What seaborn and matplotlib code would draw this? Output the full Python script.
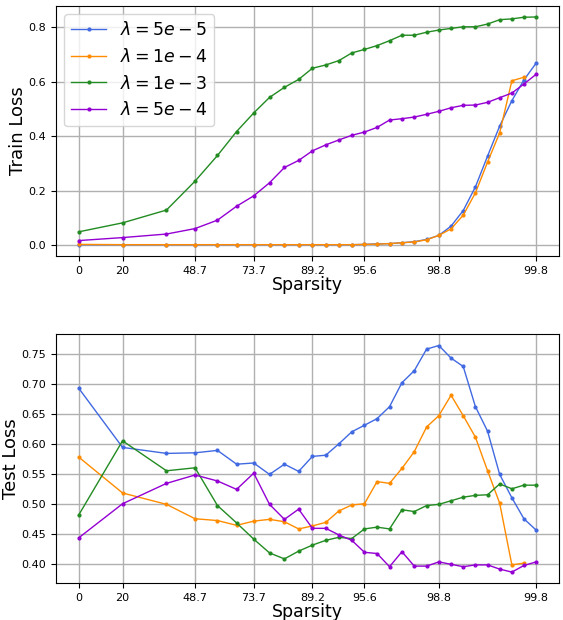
import pandas as pd
import seaborn as sns
import matplotlib.pyplot as plt
from matplotlib.ticker import NullLocator

# pruning rounds: sparsity as fraction (first point = dense model, drawn at 0.1 on the logit axis)
sparsity = [0.10, 0.200, 0.360, 0.488, 0.5904, 0.67232, 0.73786, 0.79028, 0.83223,
            0.86578, 0.89263, 0.91410, 0.93128, 0.94502, 0.95602, 0.96482, 0.97185,
            0.97748, 0.98199, 0.98559, 0.98847, 0.99078, 0.99262, 0.99410, 0.99528,
            0.99622, 0.99698, 0.99758, 0.99807]
tick_idx = [0, 1, 3, 6, 10, 14, 20, 28]
tick_labels = ["0", "20", "48.7", "73.7", "89.2", "95.6", "98.8", "99.8"]

lambdas = [r"$\lambda = 5e-5$", r"$\lambda = 1e-4$", r"$\lambda = 1e-3$", r"$\lambda = 5e-4$"]
colors = ["royalblue", "darkorange", "forestgreen", "darkviolet"]

train_5e5 = [0.003, 0.003, 0.003, 0.003, 0.003, 0.003, 0.003, 0.003, 0.003, 0.003,
             0.003, 0.003, 0.003, 0.003, 0.004, 0.006, 0.007, 0.010, 0.014, 0.022,
             0.037, 0.071, 0.128, 0.215, 0.328, 0.438, 0.531, 0.607, 0.669]
train_1e4 = [0.004, 0.003, 0.003, 0.003, 0.003, 0.003, 0.003, 0.003, 0.003, 0.003,
             0.003, 0.003, 0.003, 0.003, 0.004, 0.005, 0.007, 0.010, 0.013, 0.021,
             0.037, 0.061, 0.111, 0.193, 0.306, 0.413, 0.604, 0.617]
train_1e3 = [0.050, 0.083, 0.130, 0.236, 0.330, 0.418, 0.486, 0.543, 0.580, 0.609,
             0.650, 0.662, 0.678, 0.706, 0.719, 0.733, 0.751, 0.771, 0.771, 0.782,
             0.790, 0.796, 0.802, 0.802, 0.812, 0.828, 0.831, 0.837, 0.838]
train_5e4 = [0.018, 0.029, 0.042, 0.062, 0.093, 0.144, 0.182, 0.230, 0.286, 0.312,
             0.347, 0.369, 0.387, 0.404, 0.416, 0.433, 0.460, 0.465, 0.471, 0.481,
             0.492, 0.505, 0.514, 0.515, 0.525, 0.542, 0.559, 0.592, 0.628]

test_5e5 = [0.693, 0.594, 0.584, 0.585, 0.589, 0.566, 0.568, 0.549, 0.566, 0.554,
            0.579, 0.581, 0.600, 0.620, 0.631, 0.642, 0.662, 0.702, 0.722, 0.758,
            0.764, 0.743, 0.729, 0.662, 0.621, 0.549, 0.510, 0.475, 0.456]
test_1e4 = [0.578, 0.518, 0.499, 0.475, 0.472, 0.464, 0.471, 0.474, 0.470, 0.458,
            0.463, 0.469, 0.488, 0.498, 0.500, 0.537, 0.534, 0.559, 0.587, 0.628,
            0.647, 0.681, 0.647, 0.611, 0.555, 0.501, 0.398, 0.401]
test_1e3 = [0.481, 0.605, 0.555, 0.560, 0.497, 0.468, 0.441, 0.418, 0.408, 0.421,
            0.431, 0.439, 0.444, 0.442, 0.458, 0.461, 0.458, 0.490, 0.487, 0.497,
            0.499, 0.505, 0.511, 0.514, 0.515, 0.533, 0.525, 0.531, 0.531]
test_5e4 = [0.443, 0.500, 0.534, 0.548, 0.538, 0.524, 0.551, 0.499, 0.474, 0.491,
            0.459, 0.459, 0.448, 0.439, 0.419, 0.417, 0.395, 0.420, 0.396, 0.396,
            0.403, 0.399, 0.395, 0.398, 0.398, 0.391, 0.386, 0.397, 0.403]

train = [train_5e5, train_1e4, train_1e3, train_5e4]
test = [test_5e5, test_1e4, test_1e3, test_5e4]

rows = []
for lam, tr, te in zip(lambdas, train, test):
    for i in range(len(tr)):
        rows.append({"sparsity": sparsity[i], "lam": lam, "train": tr[i], "test": te[i]})
df = pd.DataFrame(rows)
palette = dict(zip(lambdas, colors))

fig = plt.figure(figsize=(5.63, 6.2), dpi=100)
ax1 = fig.add_axes([0.099, 0.587, 0.894, 0.404])
ax2 = fig.add_axes([0.099, 0.059, 0.894, 0.402])

for ax, col, ylabel in [(ax1, "train", "Train Loss"), (ax2, "test", "Test Loss")]:
    sns.lineplot(
        data=df,
        x="sparsity",
        y=col,
        hue="lam",
        hue_order=lambdas,
        palette=palette,
        marker="o",
        markersize=3,
        markeredgewidth=0,
        linewidth=1,
        errorbar=None,
        ax=ax,
        legend=(ax is ax1),
    )
    ax.set_xscale("logit")
    ax.xaxis.set_minor_locator(NullLocator())
    ax.set_xticks([sparsity[i] for i in tick_idx])
    ax.set_xticklabels(tick_labels)
    ax.grid(True, color="#b0b0b0", linewidth=1)
    ax.tick_params(labelsize=8)
    ax.set_xlabel("Sparsity", fontsize=12.5, labelpad=0)
    ax.set_ylabel(ylabel, fontsize=13, labelpad=1)

ax1.legend(loc="upper left", fontsize=12.5)

fig.savefig("out.png", dpi=100)
